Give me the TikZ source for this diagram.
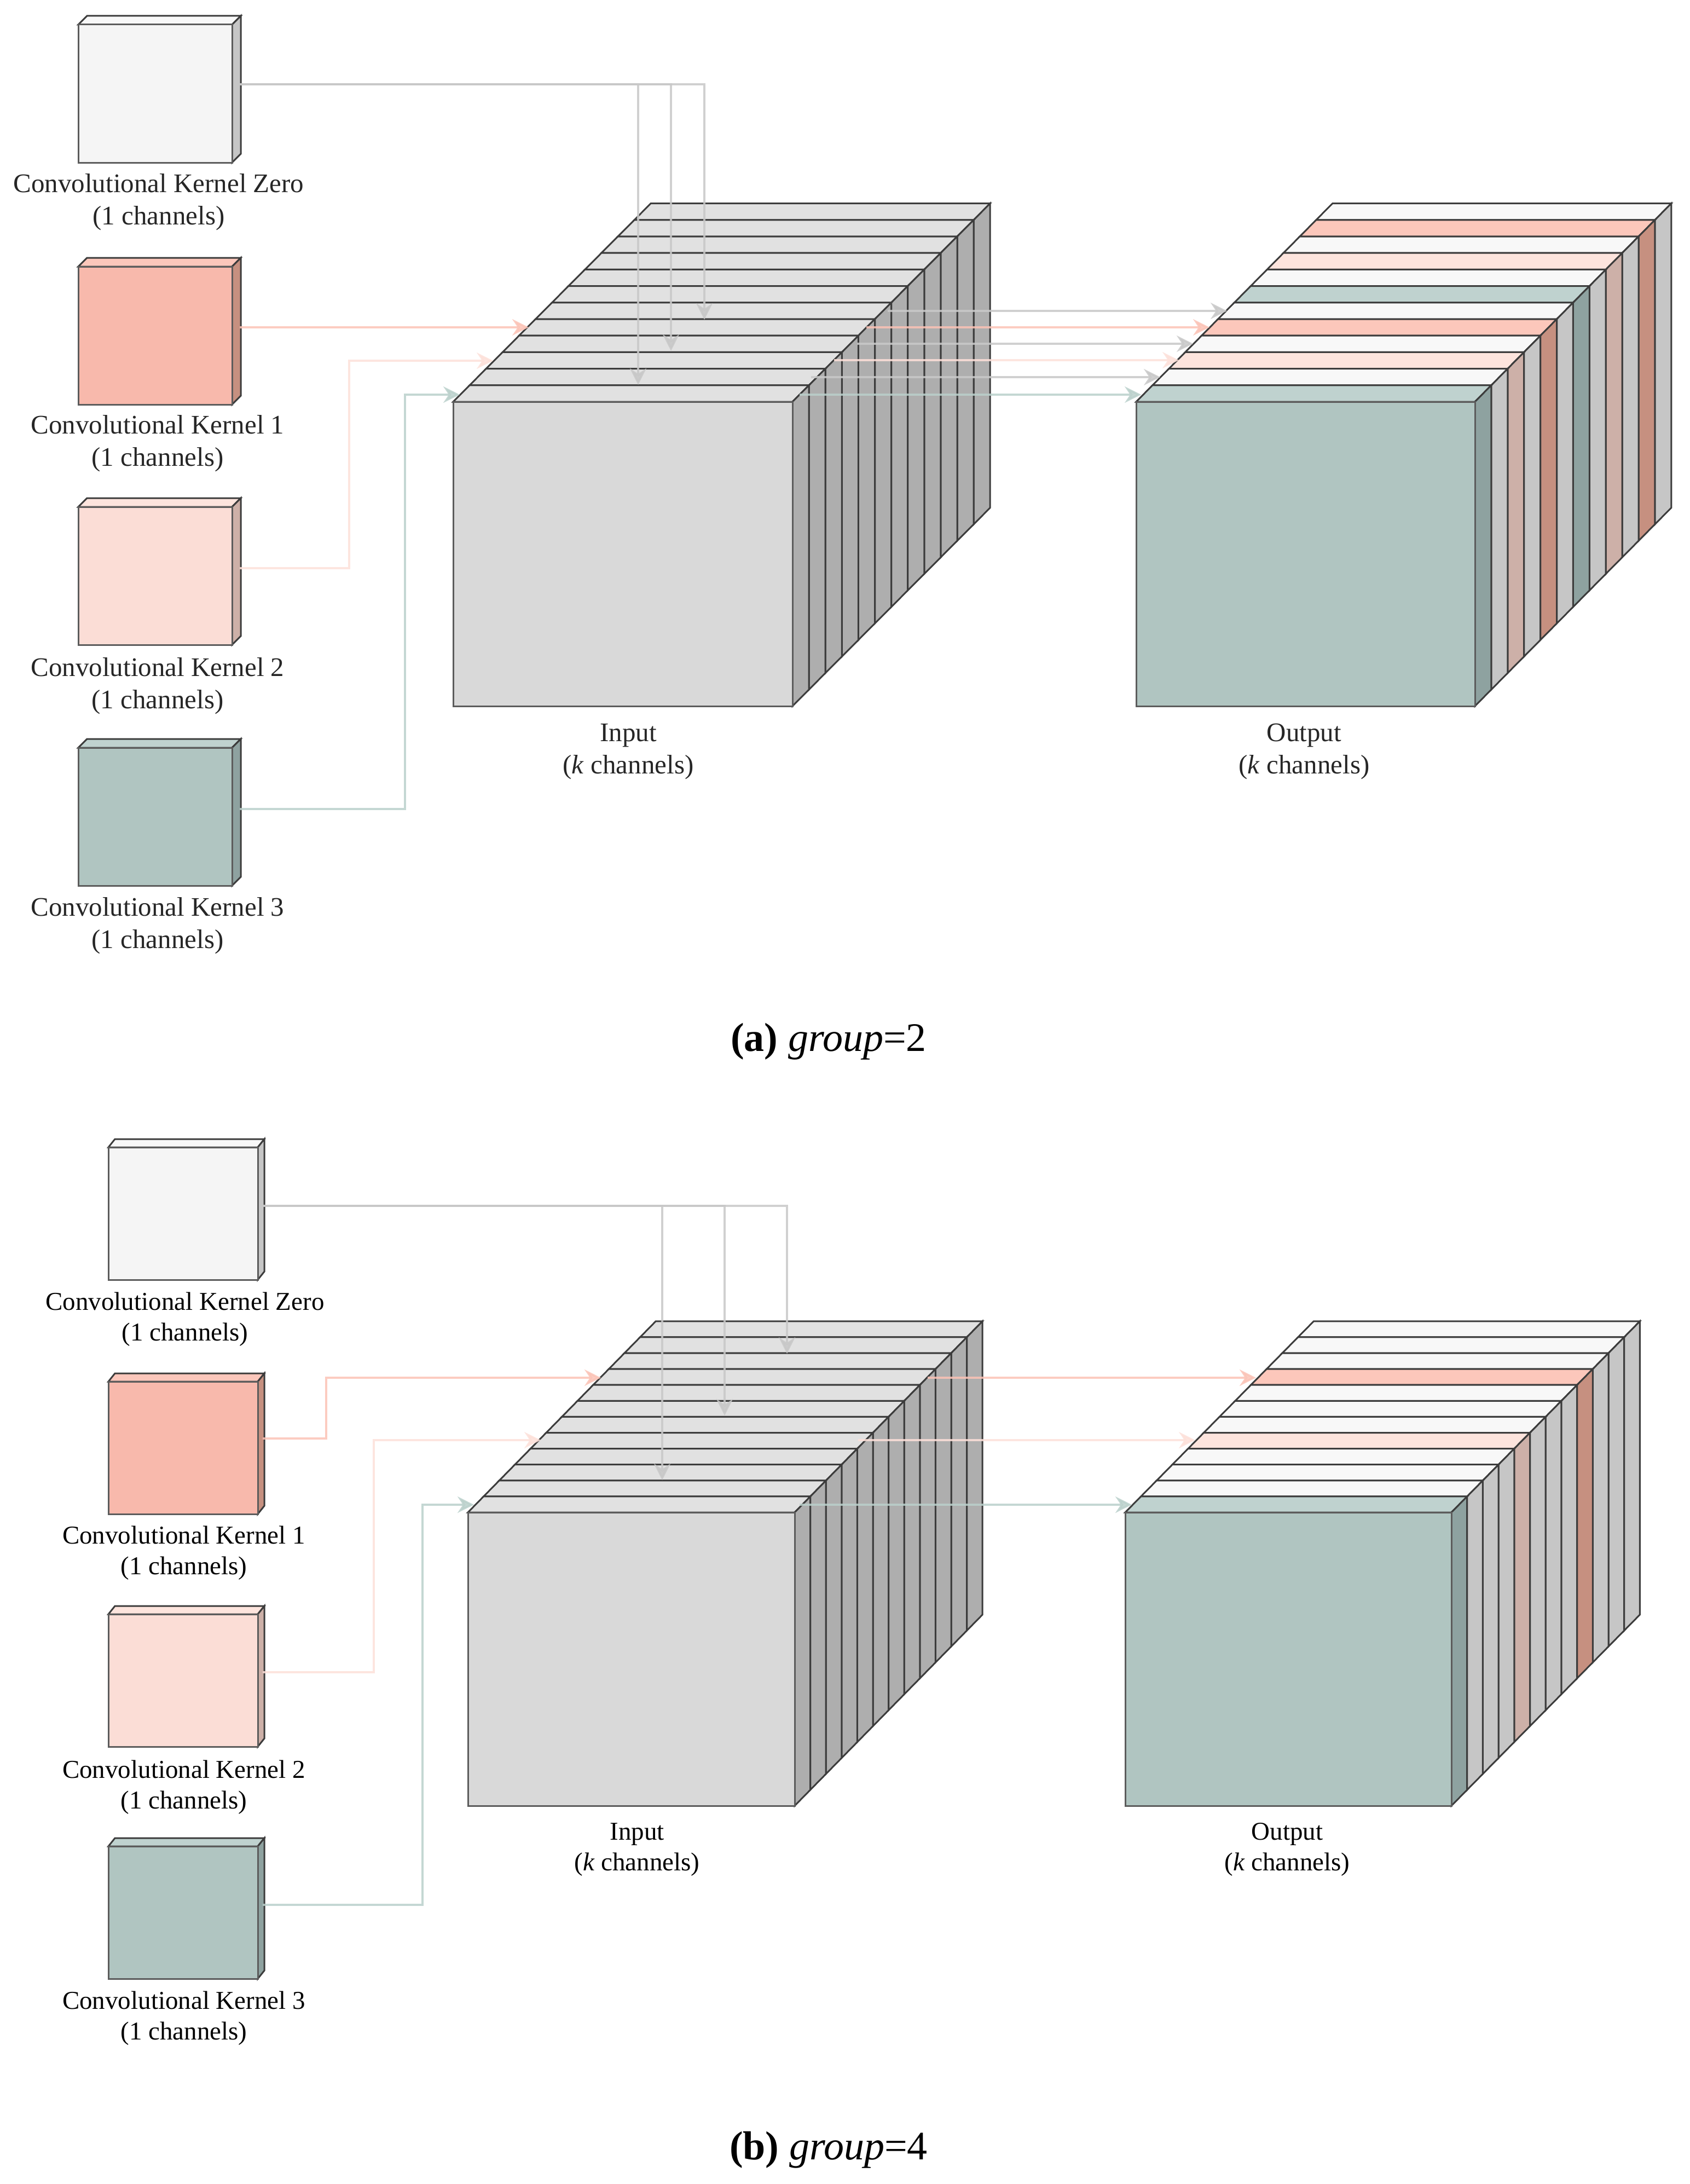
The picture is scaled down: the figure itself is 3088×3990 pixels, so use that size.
\documentclass[tikz,border=0pt]{standalone}
\usepackage{fontspec}
\setmainfont{Liberation Serif}
\usetikzlibrary{arrows.meta}
\definecolor{inF}{HTML}{D9D9D9}\definecolor{inT}{HTML}{E1E1E1}\definecolor{inS}{HTML}{AEAEAE}
\definecolor{wF}{HTML}{F5F5F5}\definecolor{wT}{HTML}{F8F8F8}\definecolor{wS}{HTML}{C6C6C6}
\definecolor{rF}{HTML}{F8B9AC}\definecolor{rT}{HTML}{FCC7BB}\definecolor{rS}{HTML}{C69080}
\definecolor{pF}{HTML}{FBDDD6}\definecolor{pT}{HTML}{FDE4DD}\definecolor{pS}{HTML}{CDB0A8}
\definecolor{tF}{HTML}{B0C5C1}\definecolor{tT}{HTML}{BFD2CF}\definecolor{tS}{HTML}{8EA2A0}
\definecolor{cG}{HTML}{C8C8C8}\definecolor{cR}{HTML}{FBC3B6}\definecolor{cP}{HTML}{FDE0D9}\definecolor{cT}{HTML}{BAD0CB}
\definecolor{edge}{HTML}{3C3C3C}
\definecolor{fedge}{HTML}{5C5C5C}
\tikzset{
 cubeedge/.style={draw=edge,line width=3pt,line join=miter},
 face/.style={draw=fedge,line width=3pt,rectangle,anchor=north west,inner sep=0pt,outer sep=0pt},
 conn/.style={line width=3.8pt,opacity=0.85,-{Stealth[length=30pt,width=30pt,inset=10pt]}},
 toplabel/.style={align=center,inner sep=0pt,text=black!85,font=\fontsize{49}{59}\selectfont},
 botlabel/.style={align=center,inner sep=0pt,text=black,font=\fontsize{47}{56}\selectfont},
 caption/.style={inner sep=0pt,text=black,font=\fontsize{74}{80}\selectfont},
}
% parameters of the current stack: \SX \SY \SW \SH \SDX \SDY
\newcommand{\setstack}[6]{\def\SX{#1}\def\SY{#2}\def\SW{#3}\def\SH{#4}\def\SDX{#5}\def\SDY{#6}}
\newcommand{\stackslice}[3]{%
 \pgfmathsetmacro\sx{\SX+#1*\SDX}\pgfmathsetmacro\sy{\SY-#1*\SDY}\pgfmathsetmacro\sr{\sx+\SW}
 \draw[cubeedge,fill=#2] (\sx,\sy) -- ++(\SW,0) -- ++(\SDX,-\SDY) -- ++(-\SW,0) -- cycle;
 \draw[cubeedge,fill=#3] (\sr,\sy) -- ++(\SDX,-\SDY) -- ++(0,\SH) -- ++(-\SDX,\SDY) -- cycle;}
\begin{document}
\begin{tikzpicture}[x=1pt,y=-1pt]
\useasboundingbox (0,0) rectangle (3088,3990);
%%% ---------- (a) kernels
\setstack{143}{45}{281}{252}{16}{16}\stackslice{0}{wT}{wS}
\node[face,fill=wF,minimum width=281pt,minimum height=252pt] (ak0) at (143,45) {};
\setstack{143}{487}{281}{252}{16}{16}\stackslice{0}{rT}{rS}
\node[face,fill=rF,minimum width=281pt,minimum height=252pt] (ak1) at (143,487) {};
\setstack{143}{926}{281}{252}{16}{16}\stackslice{0}{pT}{pS}
\node[face,fill=pF,minimum width=281pt,minimum height=252pt] (ak2) at (143,926) {};
\setstack{143}{1366}{281}{252}{16}{16}\stackslice{0}{tT}{tS}
\node[face,fill=tF,minimum width=281pt,minimum height=252pt] (ak3) at (143,1366) {};
\node[toplabel] (alk0) at (290,369) {Convolutional Kernel Zero\\(1 channels)};
\node[toplabel] (alk1) at (288,810) {Convolutional Kernel 1\\(1 channels)};
\node[toplabel] (alk2) at (288,1253) {Convolutional Kernel 2\\(1 channels)};
\node[toplabel] (alk3) at (288,1691) {Convolutional Kernel 3\\(1 channels)};
%%% (a) input stack
\setstack{828}{734}{620}{556}{30.1}{30.2}
\foreach \i in {11,10,...,0}{\stackslice{\i}{inT}{inS}}
\node[face,fill=inF,minimum width=620pt,minimum height=556pt] (ain) at (828,734) {};
\node[toplabel] (alin) at (1148,1373) {Input\\(\textit{k} channels)};
%%% (a) output stack
\setstack{2076}{734}{619}{556}{29.9}{30.2}
\foreach \i/\tc/\sc in {11/wT/wS,10/rT/rS,9/wT/wS,8/pT/pS,7/wT/wS,6/tT/tS,5/wT/wS,4/rT/rS,3/wT/wS,2/pT/pS,1/wT/wS,0/tT/tS}{\stackslice{\i}{\tc}{\sc}}
\node[face,fill=tF,minimum width=619pt,minimum height=556pt] (aout) at (2076,734) {};
\node[toplabel] (alout) at (2383,1373) {Output\\(\textit{k} channels)};
%%% (a) connectors
\coordinate (a0s) at (438,154);
\coordinate (a0i1) at (1166,703);\coordinate (a0i2) at (1226,641);\coordinate (a0i3) at (1287,584);
\coordinate (a1s) at (438,598);\coordinate (a1i) at (966,598);
\coordinate (a2s) at (438,1038);\coordinate (a2m) at (638,850);\coordinate (a2i) at (901,659);
\coordinate (a3s) at (438,1478);\coordinate (a3m) at (740,1100);\coordinate (a3i) at (840,721);
\coordinate (ag1a) at (1622,568);\coordinate (ag1b) at (2242,568);
\coordinate (ar1a) at (1583,598);\coordinate (ar1b) at (2210,598);
\coordinate (ag2a) at (1566,628);\coordinate (ag2b) at (2180,628);
\coordinate (ap1a) at (1524,658);\coordinate (ap1b) at (2154,658);
\coordinate (ag3a) at (1482,689);\coordinate (ag3b) at (2120,689);
\coordinate (at1a) at (1461,721);\coordinate (at1b) at (2085,721);
\draw[conn,draw=cG] (a0s) -| (a0i1);
\draw[conn,draw=cG] (a0s) -| (a0i2);
\draw[conn,draw=cG] (a0s) -| (a0i3);
\draw[conn,draw=cR] (a1s) -- (a1i);
\draw[conn,draw=cP] (a2s) -| (a2m) |- (a2i);
\draw[conn,draw=cT] (a3s) -| (a3m) |- (a3i);
\draw[conn,draw=cG] (ag1a) -- (ag1b);
\draw[conn,draw=cR] (ar1a) -- (ar1b);
\draw[conn,draw=cG] (ag2a) -- (ag2b);
\draw[conn,draw=cP] (ap1a) -- (ap1b);
\draw[conn,draw=cG] (ag3a) -- (ag3b);
\draw[conn,draw=cT] (at1a) -- (at1b);
\node[caption] (capa) at (1514,1903) {\textbf{(a)} \textit{group}=2};
%%% ---------- (b) kernels
\setstack{198}{2096}{273}{242}{12}{15}\stackslice{0}{wT}{wS}
\node[face,fill=wF,minimum width=273pt,minimum height=242pt] (bk0) at (198,2096) {};
\setstack{198}{2524}{273}{242}{12}{15}\stackslice{0}{rT}{rS}
\node[face,fill=rF,minimum width=273pt,minimum height=242pt] (bk1) at (198,2524) {};
\setstack{198}{2949}{273}{242}{12}{15}\stackslice{0}{pT}{pS}
\node[face,fill=pF,minimum width=273pt,minimum height=242pt] (bk2) at (198,2949) {};
\setstack{198}{3373}{273}{242}{12}{15}\stackslice{0}{tT}{tS}
\node[face,fill=tF,minimum width=273pt,minimum height=242pt] (bk3) at (198,3373) {};
\node[botlabel] (blk0) at (338,2410) {Convolutional Kernel Zero\\(1 channels)};
\node[botlabel] (blk1) at (336,2837) {Convolutional Kernel 1\\(1 channels)};
\node[botlabel] (blk2) at (336,3265) {Convolutional Kernel 2\\(1 channels)};
\node[botlabel] (blk3) at (336,3687) {Convolutional Kernel 3\\(1 channels)};
%%% (b) input stack
\setstack{855}{2763}{597}{536}{28.6}{29.1}
\foreach \i in {11,10,...,0}{\stackslice{\i}{inT}{inS}}
\node[face,fill=inF,minimum width=597pt,minimum height=536pt] (bin) at (855,2763) {};
\node[botlabel] (blin) at (1164,3379) {Input\\(\textit{k} channels)};
%%% (b) output stack
\setstack{2056}{2763}{596}{536}{28.7}{29.1}
\foreach \i/\tc/\sc in {11/wT/wS,10/wT/wS,9/wT/wS,8/rT/rS,7/wT/wS,6/wT/wS,5/wT/wS,4/pT/pS,3/wT/wS,2/wT/wS,1/wT/wS,0/tT/tS}{\stackslice{\i}{\tc}{\sc}}
\node[face,fill=tF,minimum width=596pt,minimum height=536pt] (bout) at (2056,2763) {};
\node[botlabel] (blout) at (2352,3379) {Output\\(\textit{k} channels)};
%%% (b) connectors
\coordinate (b0s) at (480,2203);
\coordinate (b0i1) at (1210,2704);\coordinate (b0i2) at (1324,2586);\coordinate (b0i3) at (1438,2473);
\coordinate (b1s) at (480,2628);\coordinate (b1m) at (596,2570);\coordinate (b1i) at (1098,2517);
\coordinate (b2s) at (480,3055);\coordinate (b2m) at (683,2850);\coordinate (b2i) at (988,2631);
\coordinate (b3s) at (480,3480);\coordinate (b3m) at (772,3100);\coordinate (b3i) at (866,2749);
\coordinate (br1a) at (1695,2517);\coordinate (br1b) at (2295,2517);
\coordinate (bp1a) at (1568,2631);\coordinate (bp1b) at (2184,2631);
\coordinate (bt1a) at (1461,2749);\coordinate (bt1b) at (2068,2749);
\draw[conn,draw=cG] (b0s) -| (b0i1);
\draw[conn,draw=cG] (b0s) -| (b0i2);
\draw[conn,draw=cG] (b0s) -| (b0i3);
\draw[conn,draw=cR] (b1s) -| (b1m) |- (b1i);
\draw[conn,draw=cP] (b2s) -| (b2m) |- (b2i);
\draw[conn,draw=cT] (b3s) -| (b3m) |- (b3i);
\draw[conn,draw=cR] (br1a) -- (br1b);
\draw[conn,draw=cP] (bp1a) -- (bp1b);
\draw[conn,draw=cT] (bt1a) -- (bt1b);
\node[caption] (capb) at (1514,3928) {\textbf{(b)} \textit{group}=4};
\end{tikzpicture}
\end{document}
